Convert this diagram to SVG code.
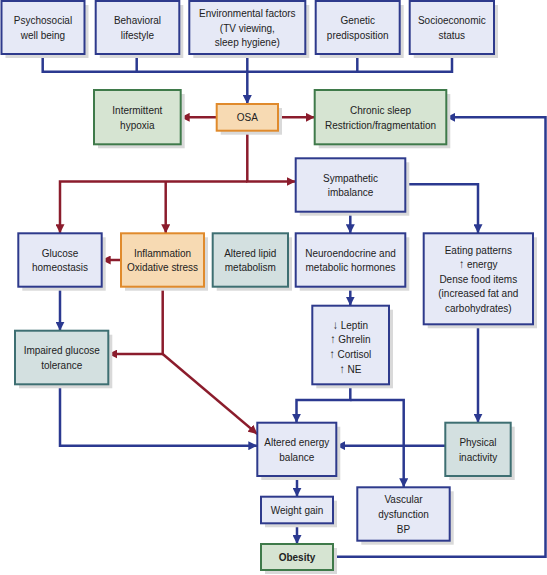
<svg xmlns="http://www.w3.org/2000/svg" width="547" height="575" viewBox="0 0 547 575">
<defs>
<style>
.bg{fill:#ffffff}
.sh{fill:#d9d9d9}
.b{fill:#e6e9f6;stroke:#2e3a8c;stroke-width:2}
.g{fill:#d6e4d2;stroke:#3f7a4a;stroke-width:2}
.t{fill:#d3e0e0;stroke:#3e6f72;stroke-width:2}
.o{fill:#f7dab3;stroke:#e08a2c;stroke-width:2}
text{font-family:"Liberation Sans",Arial,sans-serif;font-size:11.5px;fill:#222;text-anchor:middle;transform-box:fill-box;transform-origin:center;transform:scaleX(0.87)}
text.bold{font-weight:bold}
.cb{fill:none;stroke:#2b3990;stroke-width:2.5}
.cr{fill:none;stroke:#8b1c2c;stroke-width:2.5}
.ab{marker-end:url(#mb)}
.ar{marker-end:url(#mr)}
</style>
<marker id="mb" viewBox="0 0 10 10" refX="10" refY="5" markerUnits="userSpaceOnUse" markerWidth="9" markerHeight="9" orient="auto"><path d="M0,0 L10,5 L0,10 z" fill="#2b3990"/></marker>
<marker id="mr" viewBox="0 0 10 10" refX="10" refY="5" markerUnits="userSpaceOnUse" markerWidth="9" markerHeight="9" orient="auto"><path d="M0,0 L10,5 L0,10 z" fill="#8b1c2c"/></marker>
</defs>
<rect class="bg" x="0" y="0" width="547" height="575"/>

<g id="connectors">
<path class="cb" d="M42.7,54 V71.7 H452 V54"/>
<path class="cb" d="M136.7,54 V71.7"/>
<path class="cb" d="M357.3,54 V71.7"/>
<path class="cb ab" d="M247.3,54 V104"/>
<path class="cr ar" d="M216.7,117.3 H180.7"/>
<path class="cr ar" d="M278,117.3 H314.7"/>
<path class="cr ar" d="M247.3,130.7 V181.5 H295.7"/>
<path class="cr ar" d="M247.3,181.5 H60 V233.3"/>
<path class="cr ar" d="M165.7,181.5 V233.3"/>
<path class="cr ar" d="M121,260 H101.7"/>
<path class="cr ar" d="M162.7,286.7 V354 H108.3"/>
<path class="cr ar" d="M162.7,354 L257.3,434"/>
<path class="cb ab" d="M350.3,211.7 V233.3"/>
<path class="cb ab" d="M405.3,184.3 H478 V233.3"/>
<path class="cb ab" d="M350.3,286.7 V305.7"/>
<path class="cb ab" d="M350.3,384.3 V400 H296.5 V422.7"/>
<path class="cb ab" d="M350.3,400 H403.7 V487.3"/>
<path class="cb ab" d="M478,324.3 V422.7"/>
<path class="cb ab" d="M445.3,445.7 H336.3"/>
<path class="cb ab" d="M60,286.7 V330.7"/>
<path class="cb ab" d="M60,384.3 V445.7 H257.3"/>
<path class="cb ab" d="M297,476 V496.7"/>
<path class="cb ab" d="M297,523.3 V544"/>
<path class="cb ab" d="M333,556.7 H545.5 V117.3 H446.3"/>
</g>

<g id="psychosocial">
<rect class="sh" x="5.5" y="5" width="83" height="53"/>
<rect class="b" x="1.5" y="1" width="83" height="53"/>
<text x="43" y="24.5">Psychosocial</text>
<text x="43" y="39.1">well being</text>
</g>
<g id="behavioral">
<rect class="sh" x="99.7" y="5" width="83.6" height="53"/>
<rect class="b" x="95.7" y="1" width="83.6" height="53"/>
<text x="137.5" y="24.5">Behavioral</text>
<text x="137.5" y="39.1">lifestyle</text>
</g>
<g id="environmental">
<rect class="sh" x="193.3" y="5" width="116" height="53"/>
<rect class="b" x="189.3" y="1" width="116" height="53"/>
<text x="247.3" y="17">Environmental factors</text>
<text x="247.3" y="31.6">(TV viewing,</text>
<text x="247.3" y="46.2">sleep hygiene)</text>
</g>
<g id="genetic">
<rect class="sh" x="319.7" y="5" width="84" height="53"/>
<rect class="b" x="315.7" y="1" width="84" height="53"/>
<text x="357.7" y="24.5">Genetic</text>
<text x="357.7" y="39.1">predisposition</text>
</g>
<g id="socioeconomic">
<rect class="sh" x="413.7" y="5" width="84.3" height="53"/>
<rect class="b" x="409.7" y="1" width="84.3" height="53"/>
<text x="451.8" y="24.5">Socioeconomic</text>
<text x="451.8" y="39.1">status</text>
</g>

<g id="osa">
<rect class="sh" x="220.7" y="108" width="61.3" height="26.7"/>
<rect class="o" x="216.7" y="104" width="61.3" height="26.7"/>
<text x="247.3" y="121.4">OSA</text>
</g>
<g id="hypoxia">
<rect class="sh" x="98" y="94" width="86.7" height="54.3"/>
<rect class="g" x="94" y="90" width="86.7" height="54.3"/>
<text x="137.3" y="114">Intermittent</text>
<text x="137.3" y="128.6">hypoxia</text>
</g>
<g id="chronic-sleep">
<rect class="sh" x="318.7" y="94" width="131.6" height="54.3"/>
<rect class="g" x="314.7" y="90" width="131.6" height="54.3"/>
<text x="380.5" y="114">Chronic sleep</text>
<text x="380.5" y="128.6">Restriction/fragmentation</text>
</g>

<g id="sympathetic">
<rect class="sh" x="299.7" y="162.3" width="109.6" height="53.4"/>
<rect class="b" x="295.7" y="158.3" width="109.6" height="53.4"/>
<text x="350.5" y="181.8">Sympathetic</text>
<text x="350.5" y="196.4">imbalance</text>
</g>

<g id="glucose-homeostasis">
<rect class="sh" x="22.3" y="237.3" width="83.4" height="53.4"/>
<rect class="b" x="18.3" y="233.3" width="83.4" height="53.4"/>
<text x="60" y="256.8">Glucose</text>
<text x="60" y="271.4">homeostasis</text>
</g>
<g id="inflammation">
<rect class="sh" x="125" y="237.3" width="83" height="53.4"/>
<rect class="o" x="121" y="233.3" width="83" height="53.4"/>
<text x="162.5" y="256.8">Inflammation</text>
<text x="162.5" y="271.4">Oxidative stress</text>
</g>
<g id="altered-lipid">
<rect class="sh" x="216.7" y="237.3" width="75.3" height="53.4"/>
<rect class="t" x="212.7" y="233.3" width="75.3" height="53.4"/>
<text x="250.3" y="256.8">Altered lipid</text>
<text x="250.3" y="271.4">metabolism</text>
</g>
<g id="neuroendocrine">
<rect class="sh" x="299.7" y="237.3" width="109.6" height="53.4"/>
<rect class="b" x="295.7" y="233.3" width="109.6" height="53.4"/>
<text x="350.5" y="256.8">Neuroendocrine and</text>
<text x="350.5" y="271.4">metabolic hormones</text>
</g>
<g id="eating-patterns">
<rect class="sh" x="427.7" y="237.3" width="109.3" height="91"/>
<rect class="b" x="423.7" y="233.3" width="109.3" height="91"/>
<text x="478.3" y="253.6">Eating patterns</text>
<text x="478.3" y="268.2">↑ energy</text>
<text x="478.3" y="282.8">Dense food items</text>
<text x="478.3" y="297.4">(increased fat and</text>
<text x="478.3" y="312">carbohydrates)</text>
</g>

<g id="hormones">
<rect class="sh" x="316.3" y="309.7" width="76.7" height="78.6"/>
<rect class="b" x="312.3" y="305.7" width="76.7" height="78.6"/>
<text x="350.5" y="328.9">↓ Leptin</text>
<text x="350.5" y="343.5">↑ Ghrelin</text>
<text x="350.5" y="358.1">↑ Cortisol</text>
<text x="350.5" y="372.7">↑ NE</text>
</g>
<g id="impaired-glucose">
<rect class="sh" x="19" y="334.7" width="93.3" height="53.6"/>
<rect class="t" x="15" y="330.7" width="93.3" height="53.6"/>
<text x="61.7" y="354.3">Impaired glucose</text>
<text x="61.7" y="368.9">tolerance</text>
</g>

<g id="energy-balance">
<rect class="sh" x="261.3" y="426.7" width="79" height="53.3"/>
<rect class="b" x="257.3" y="422.7" width="79" height="53.3"/>
<text x="296.8" y="446.1">Altered energy</text>
<text x="296.8" y="460.7">balance</text>
</g>
<g id="physical-inactivity">
<rect class="sh" x="449.3" y="426.7" width="65.4" height="53.3"/>
<rect class="t" x="445.3" y="422.7" width="65.4" height="53.3"/>
<text x="478" y="446.1">Physical</text>
<text x="478" y="460.7">inactivity</text>
</g>
<g id="weight-gain">
<rect class="sh" x="265" y="500.7" width="72" height="26.6"/>
<rect class="b" x="261" y="496.7" width="72" height="26.6"/>
<text x="297" y="514.1">Weight gain</text>
</g>
<g id="vascular">
<rect class="sh" x="361.3" y="491.3" width="92.4" height="53.4"/>
<rect class="b" x="357.3" y="487.3" width="92.4" height="53.4"/>
<text x="403.5" y="503.4">Vascular</text>
<text x="403.5" y="518">dysfunction</text>
<text x="403.5" y="532.6">BP</text>
</g>
<g id="obesity">
<rect class="sh" x="265" y="548" width="72" height="26"/>
<rect class="g" x="261" y="544" width="72" height="26"/>
<text class="bold" x="297" y="561.2">Obesity</text>
</g>
</svg>
